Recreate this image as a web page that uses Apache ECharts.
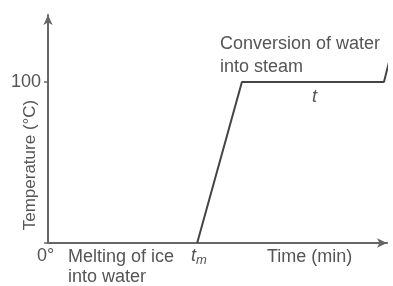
<!DOCTYPE html>
<html>
<head>
<meta charset="utf-8">
<script src="https://cdn.jsdelivr.net/npm/echarts@6/dist/echarts.min.js"></script>
<style>
  html, body { margin: 0; padding: 0; background: #fff; }
  #chart { width: 393px; height: 286px; }
</style>
</head>
<body>
<div id="chart"></div>
<script>
// heating curve of water: time (min) vs temperature (°C)
var times = [4.4, 5.72, 9.91, 10.2];
var temps = [0, 100, 100, 124];
var yTicks = [100];

var points = times.map(function (t, i) { return [t, temps[i]]; });

var chart = echarts.init(document.getElementById('chart'));
var txt = '#555';
var font = 'Liberation Sans';

chart.setOption({
  animation: false,
  grid: { left: 48, right: 6, top: 15, bottom: 43, outerBoundsMode: 'none', containLabel: false },
  xAxis: {
    type: 'value',
    min: 0,
    max: 10,
    axisLine: { lineStyle: { color: '#666', width: 2 }, symbol: ['none', 'arrow'], symbolSize: [7, 10] },
    axisTick: { show: false },
    axisLabel: { show: false },
    splitLine: { show: false }
  },
  yAxis: {
    type: 'value',
    min: 0,
    max: 141.6,
    interval: 100,
    axisLine: { lineStyle: { color: '#666', width: 2 }, symbol: ['none', 'arrow'], symbolSize: [7, 10] },
    axisTick: { show: true, length: 4, lineStyle: { color: '#666', width: 1.5 } },
    axisLabel: {
      color: txt, fontSize: 18, fontFamily: font, margin: 7,
      showMaxLabel: false,
      formatter: function (v) { return yTicks.indexOf(v) >= 0 ? String(v) : ''; }
    },
    splitLine: { show: false }
  },
  series: [{
    type: 'line',
    data: points,
    clip: false,
    symbol: 'none',
    lineStyle: { color: '#444', width: 2 }
  }],
  graphic: [
    { type: 'text', x: 30, y: 165, rotation: Math.PI / 2, style: {
      text: 'Temperature (°C)', fill: txt, font: '17px ' + font, align: 'center', verticalAlign: 'middle'
    } },
    { type: 'text', left: 37, top: 247, style: { text: '0°', fill: txt, font: '18px ' + font } },
    { type: 'text', left: 68, top: 247, style: { text: 'Melting of ice\ninto water', fill: txt, font: '18px ' + font, lineHeight: 20 } },
    { type: 'text', left: 191, top: 247, style: {
      text: '{t|t}{m|m}',
      rich: {
        t: { fill: txt, font: 'italic 18px ' + font },
        m: { fill: txt, font: 'italic 13px ' + font, padding: [8, 0, 0, 0] }
      }
    } },
    { type: 'text', left: 267, top: 248, style: { text: 'Time (min)', fill: txt, font: '18px ' + font } },
    { type: 'text', left: 220, top: 33, style: { text: 'Conversion of water\ninto steam', fill: txt, font: '18px ' + font, lineHeight: 23 } },
    { type: 'text', left: 312, top: 88, style: { text: 't', fill: txt, font: 'italic 18px ' + font } }
  ]
});
</script>
</body>
</html>
